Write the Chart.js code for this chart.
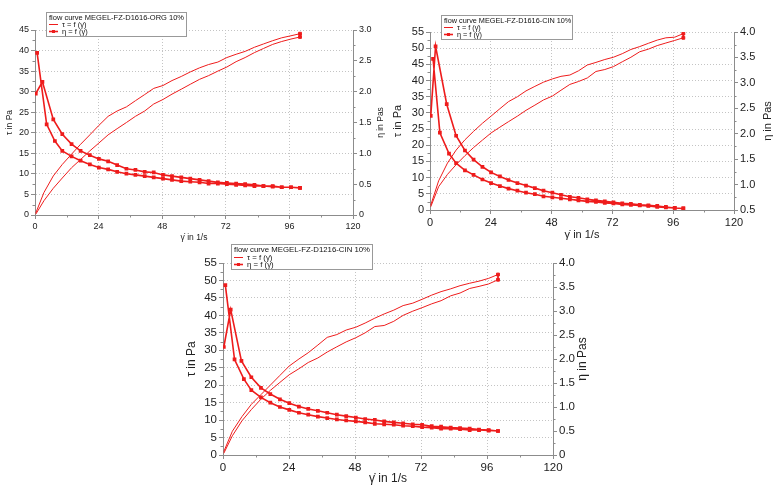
<!DOCTYPE html>
<html>
<head>
<meta charset="utf-8">
<script src="https://cdn.jsdelivr.net/npm/chart.js@4.4.1/dist/chart.umd.min.js"></script>
<style>
  body { margin: 0; background: #fff; width: 780px; height: 491px; overflow: hidden; position: relative; }
  canvas { position: absolute; }
</style>
</head>
<body>
<canvas id="c1" width="390" height="245" style="left:0;top:0"></canvas>
<canvas id="c2" width="390" height="245" style="left:390px;top:0"></canvas>
<canvas id="c3" width="425" height="251" style="left:180px;top:240px"></canvas>
<script>
// shear rate steps of the up and down sweep (1/s)
var rateUp = [0.3, 3.4, 6.9, 10.3, 13.8, 17.2, 20.7, 24.1, 27.6, 31, 34.5, 37.9, 41.4, 44.8, 48.3, 51.7, 55.2, 58.6, 62.1, 65.5, 69, 72.4, 75.9, 79.3, 82.8, 86.2, 89.7, 93.1, 96.6, 100];
var rateDown = [100, 96.6, 93.1, 89.7, 86.2, 82.8, 79.3, 75.9, 72.4, 69, 65.5, 62.1, 58.6, 55.2, 51.7, 48.3, 44.8, 41.4, 37.9, 34.5, 31, 27.6, 24.1, 20.7, 17.2, 13.8, 10.3, 6.9, 3.4, 0.3];

// MEGEL-FZ-D1616-ORG 10%
var orgTauUp = [0.5, 5.5, 9.5, 12.3, 14.8, 17.2, 19.5, 21.8, 24, 25.3, 26.3, 27.8, 29.3, 30.8, 31.5, 32.7, 33.7, 34.8, 35.8, 36.6, 37.2, 38.3, 39.1, 39.8, 40.8, 41.6, 42.4, 43.1, 43.6, 44.1];
var orgTauDown = [43.3, 42.8, 42.2, 41.5, 40.5, 39.5, 38.3, 37.3, 36, 35, 33.9, 33, 31.8, 30.6, 29.4, 28.1, 27, 25.3, 24, 22.5, 21, 19.5, 17.5, 15.6, 13.5, 11.5, 9, 6.5, 3.5, 0.2];
var orgEtaRateUp = [0.3, 2.8, 6.9, 10.3, 13.8, 17.2, 20.7, 24.1, 27.6, 31, 34.5, 37.9, 41.4, 44.8, 48.3, 51.7, 55.2, 58.6, 62.1, 65.5, 69, 72.4, 75.9, 79.3, 82.8, 86.2, 89.7, 93.1, 96.6, 100];
var orgEtaUp = [1.97, 2.16, 1.55, 1.31, 1.15, 1.04, 0.97, 0.91, 0.87, 0.81, 0.75, 0.73, 0.70, 0.69, 0.65, 0.63, 0.61, 0.59, 0.57, 0.55, 0.53, 0.52, 0.51, 0.50, 0.49, 0.47, 0.47, 0.45, 0.45, 0.44];
var orgEtaRateDown = [100, 96.6, 93.1, 89.7, 86.2, 82.8, 79.3, 75.9, 72.4, 69, 65.5, 62.1, 58.6, 55.2, 51.7, 48.3, 44.8, 41.4, 37.9, 34.5, 31, 27.6, 24.1, 20.7, 17.2, 13.8, 10.3, 7.5, 4.4, 0.8];
var orgEtaDown = [0.44, 0.45, 0.45, 0.46, 0.47, 0.47, 0.48, 0.49, 0.50, 0.51, 0.51, 0.53, 0.54, 0.55, 0.57, 0.59, 0.61, 0.63, 0.65, 0.67, 0.70, 0.74, 0.77, 0.82, 0.88, 0.95, 1.04, 1.20, 1.47, 2.63];

// MEGEL-FZ-D1616-CIN 10%
var cinTauUp = [1.5, 9, 14.5, 18.5, 21.7, 24.3, 26.8, 29, 31.3, 33.5, 35, 36.8, 38.2, 39.5, 40.5, 41.3, 41.7, 43, 44.8, 45.6, 46.5, 47.2, 48.3, 49.6, 50.5, 51.5, 52.5, 53.2, 53.4, 54.5];
var cinTauDown = [53.2, 52.4, 51.6, 50.8, 49.7, 48.9, 47.2, 45.8, 44.3, 43.4, 42.8, 40.8, 39.7, 38.8, 37, 35.2, 34, 32.4, 30.8, 29, 27.3, 25.6, 23.8, 21.6, 19.3, 16.8, 14, 11, 7.2, 1];
var cinEtaRateUp = [0.3, 2.2, 6.6, 10.3, 13.8, 17.2, 20.7, 24.1, 27.6, 31, 34.5, 37.9, 41.4, 44.8, 48.3, 51.7, 55.2, 58.6, 62.1, 65.5, 69, 72.4, 75.9, 79.3, 82.8, 86.2, 89.7, 93.1, 96.6, 100];
var cinEtaUp = [2.35, 3.72, 2.58, 1.96, 1.67, 1.49, 1.35, 1.24, 1.16, 1.09, 1.03, 0.98, 0.93, 0.88, 0.84, 0.80, 0.76, 0.74, 0.71, 0.69, 0.67, 0.65, 0.63, 0.62, 0.60, 0.59, 0.58, 0.56, 0.54, 0.53];
var cinEtaRateDown = [100, 96.6, 93.1, 89.7, 86.2, 82.8, 79.3, 75.9, 72.4, 69, 65.5, 62.1, 58.6, 55.2, 51.7, 48.3, 44.8, 41.4, 37.9, 34.5, 31, 27.6, 24.1, 20.7, 17.2, 13.8, 10.3, 7.5, 3.9, 1.2];
var cinEtaDown = [0.53, 0.54, 0.55, 0.56, 0.58, 0.59, 0.60, 0.61, 0.63, 0.64, 0.66, 0.67, 0.69, 0.71, 0.73, 0.75, 0.77, 0.81, 0.84, 0.88, 0.92, 0.97, 1.03, 1.10, 1.19, 1.28, 1.42, 1.61, 2.02, 3.47];

// MEGEL-FZ-D1216-CIN 10%
var d12TauUp = [1, 6.8, 11, 14.5, 17.3, 20, 22.8, 25.5, 27.5, 29.3, 31.5, 33.7, 34.5, 35.8, 36.6, 37.8, 39.2, 40.4, 41.5, 42.8, 43.5, 44.6, 45.8, 46.8, 47.6, 48.5, 49.2, 49.8, 50.6, 51.7];
var d12TauDown = [50.2, 49.0, 48.3, 47.7, 46.4, 45.6, 44.2, 43.3, 42.2, 41.2, 40, 38.3, 37.1, 36.8, 35, 33.6, 32.4, 31, 29.5, 27.8, 26.5, 24.7, 23, 20.8, 18.5, 16, 13, 9.8, 5.5, 0.5];
var d12EtaRateUp = [0.3, 2.8, 6.7, 10.3, 13.8, 17.2, 20.7, 24.1, 27.6, 31, 34.5, 37.9, 41.4, 44.8, 48.3, 51.7, 55.2, 58.6, 62.1, 65.5, 69, 72.4, 75.9, 79.3, 82.8, 86.2, 89.7, 93.1, 96.6, 100];
var d12EtaUp = [2.25, 3.03, 1.96, 1.62, 1.40, 1.27, 1.16, 1.08, 1.01, 0.96, 0.92, 0.88, 0.84, 0.81, 0.78, 0.75, 0.73, 0.70, 0.68, 0.66, 0.64, 0.63, 0.60, 0.59, 0.57, 0.56, 0.55, 0.53, 0.52, 0.50];
var d12EtaRateDown = [100, 96.6, 93.1, 89.7, 86.2, 82.8, 79.3, 75.9, 72.4, 69, 65.5, 62.1, 58.6, 55.2, 51.7, 48.3, 44.8, 41.4, 37.9, 34.5, 31, 27.6, 24.1, 20.7, 17.2, 13.8, 10.3, 7.6, 4.2, 0.85];
var d12EtaDown = [0.50, 0.51, 0.52, 0.52, 0.54, 0.55, 0.55, 0.57, 0.58, 0.60, 0.61, 0.63, 0.64, 0.65, 0.68, 0.70, 0.72, 0.74, 0.77, 0.80, 0.84, 0.88, 0.94, 1.00, 1.09, 1.20, 1.35, 1.58, 1.99, 3.54];

var RED = 'rgb(238,28,28)';
var FONT = "'Liberation Sans', Arial, sans-serif";

function loop(xu, yu, xd, yd) {
    var pts = [];
    for (var i = 0; i < xu.length; i++) pts.push({ x: xu[i], y: yu[i] });
    for (var j = 0; j < xd.length; j++) pts.push({ x: xd[j], y: yd[j] });
    return pts;
}

// small ticks between the labelled ones
var minorTicks = {
    id: 'minorTicks',
    afterDraw: function (chart) {
        var ctx = chart.ctx;
        ctx.save();
        ctx.strokeStyle = '#8c8c8c';
        ctx.lineWidth = 1;
        ['x', 'y', 'y1'].forEach(function (id) {
            var s = chart.scales[id];
            var t = s.ticks;
            for (var i = 0; i < t.length - 1; i++) {
                var p = Math.round(s.getPixelForValue((t[i].value + t[i + 1].value) / 2)) + 0.5;
                ctx.beginPath();
                if (id === 'x') { ctx.moveTo(p, s.top); ctx.lineTo(p, s.top + 2.5); }
                else if (id === 'y') { ctx.moveTo(s.right, p); ctx.lineTo(s.right - 2.5, p); }
                else { ctx.moveTo(s.left, p); ctx.lineTo(s.left + 2.5, p); }
                ctx.stroke();
            }
        });
        ctx.restore();
    }
};

// right axis title, read bottom to top like the left one
var rightTitle = {
    id: 'rightTitle',
    afterDraw: function (chart, args, o) {
        var ctx = chart.ctx;
        var a = chart.chartArea;
        ctx.save();
        ctx.translate(o.x, (a.top + a.bottom) / 2);
        ctx.rotate(-Math.PI / 2);
        ctx.font = o.size + 'px ' + FONT;
        ctx.fillStyle = '#222';
        ctx.textAlign = 'center';
        ctx.textBaseline = 'middle';
        ctx.fillText(o.text, 0, 0);
        ctx.restore();
    }
};

// framed legend box drawn over the plot
var boxLegend = {
    id: 'boxLegend',
    afterDraw: function (chart, args, o) {
        var ctx = chart.ctx;
        ctx.save();
        ctx.fillStyle = '#fff';
        ctx.fillRect(o.x, o.y, o.w, o.h);
        ctx.strokeStyle = '#999';
        ctx.lineWidth = 1;
        ctx.strokeRect(o.x + 0.5, o.y + 0.5, o.w, o.h);
        ctx.font = o.size + 'px ' + FONT;
        ctx.fillStyle = '#111';
        ctx.textBaseline = 'middle';
        ctx.fillText(o.title, o.x + 3, o.y + o.h * 0.23);
        chart.data.datasets.forEach(function (ds, i) {
            var yy = Math.round(o.y + o.h * (0.52 + 0.28 * i)) + 0.5;
            ctx.strokeStyle = RED;
            ctx.lineWidth = ds.borderWidth;
            ctx.beginPath();
            ctx.moveTo(o.x + 3, yy);
            ctx.lineTo(o.x + 12, yy);
            ctx.stroke();
            if (i === 1) { ctx.fillStyle = RED; ctx.fillRect(o.x + 6, yy - 1.5, 3, 3); }
            ctx.fillStyle = '#111';
            ctx.fillText(ds.label, o.x + 16, yy);
        });
        ctx.restore();
    }
};

function makeChart(id, c) {
    var tickFont = { family: FONT, size: c.tickSize };
    var titleFont = { family: FONT, size: c.titleSize };
    return new Chart(document.getElementById(id), {
        type: 'scatter',
        data: {
            datasets: [{
                label: 'τ = f (γ̇)',
                data: c.tau,
                yAxisID: 'y',
                showLine: true,
                borderColor: RED,
                backgroundColor: RED,
                borderWidth: 1,
                pointStyle: 'rect',
                pointRadius: function (ctx) { return ctx.raw && ctx.raw.x === 100 ? 2 : 0; }
            }, {
                label: 'η = f (γ̇)',
                data: c.eta,
                yAxisID: 'y1',
                showLine: true,
                borderColor: RED,
                backgroundColor: RED,
                borderWidth: 1.6,
                pointStyle: 'rect',
                pointRadius: 1.5
            }]
        },
        options: {
            responsive: false,
            animation: false,
            layout: { padding: { top: c.top, left: 0, right: 0, bottom: 0 } },
            plugins: {
                legend: { display: false },
                tooltip: { enabled: false },
                boxLegend: c.legend,
                rightTitle: { text: 'η in Pas', x: c.y1TitleX, size: c.titleSize }
            },
            scales: {
                x: {
                    type: 'linear', min: 0, max: 120,
                    afterFit: function (s) { s.height = c.bottom; },
                    ticks: { stepSize: 24, autoSkip: false, font: tickFont, color: '#222', maxRotation: 0, padding: 2 },
                    grid: { color: '#c4c4c4', tickColor: '#8c8c8c', tickLength: 4 },
                    border: { color: '#8c8c8c', dash: [1, 2] },
                    title: { display: true, text: 'γ̇ in 1/s', font: titleFont, color: '#222', padding: { top: 0, bottom: c.xTitlePad } }
                },
                y: {
                    position: 'left', min: 0, max: c.tauMax,
                    afterFit: function (s) { s.width = c.left; },
                    ticks: { stepSize: 5, autoSkip: false, font: tickFont, color: '#222', padding: 2 },
                    grid: { color: '#c4c4c4', tickColor: '#8c8c8c', tickLength: 4 },
                    border: { color: '#8c8c8c', dash: [1, 2] },
                    title: { display: true, text: 'τ in Pa', font: titleFont, color: '#222', padding: { top: c.yTitlePad, bottom: 0 } }
                },
                y1: {
                    position: 'right', min: c.etaMin, max: c.etaMax,
                    afterFit: function (s) { s.width = c.right; },
                    ticks: { stepSize: 0.5, autoSkip: false, font: tickFont, color: '#222', padding: 2,
                        callback: function (v) { return v === 0 ? '0' : v.toFixed(1); } },
                    grid: { drawOnChartArea: false, tickColor: '#8c8c8c', tickLength: 4 },
                    border: { color: '#8c8c8c' },
                    title: { display: false }
                }
            }
        },
        plugins: [minorTicks, boxLegend, rightTitle]
    });
}

makeChart('c1', {
    tau: loop(rateUp, orgTauUp, rateDown, orgTauDown),
    eta: loop(orgEtaRateUp, orgEtaUp, orgEtaRateDown, orgEtaDown),
    tauMax: 45, etaMin: 0, etaMax: 3,
    top: 30, left: 35, right: 37, bottom: 30,
    tickSize: 9, titleSize: 8.5, xTitlePad: 2.6, yTitlePad: 4.6, y1TitleX: 381,
    legend: { x: 46, y: 12, w: 140, h: 24, size: 7.5, title: 'flow curve MEGEL-FZ-D1616-ORG 10%' }
});

makeChart('c2', {
    tau: loop(rateUp, cinTauUp, rateDown, cinTauDown),
    eta: loop(cinEtaRateUp, cinEtaUp, cinEtaRateDown, cinEtaDown),
    tauMax: 55, etaMin: 0.5, etaMax: 4,
    top: 32, left: 40, right: 46, bottom: 35,
    tickSize: 11, titleSize: 11, xTitlePad: 3.4, yTitlePad: 1.4, y1TitleX: 378,
    legend: { x: 51, y: 15, w: 131, h: 24, size: 7.3, title: 'flow curve MEGEL-FZ-D1616-CIN 10%' }
});

makeChart('c3', {
    tau: loop(rateUp, d12TauUp, rateDown, d12TauDown),
    eta: loop(d12EtaRateUp, d12EtaUp, d12EtaRateDown, d12EtaDown),
    tauMax: 55, etaMin: 0, etaMax: 4,
    top: 23, left: 43, right: 52, bottom: 36,
    tickSize: 11.5, titleSize: 12, xTitlePad: 4.8, yTitlePad: 4.8, y1TitleX: 403,
    legend: { x: 51, y: 4, w: 141, h: 25, size: 7.8, title: 'flow curve MEGEL-FZ-D1216-CIN 10%' }
});
</script>
</body>
</html>
